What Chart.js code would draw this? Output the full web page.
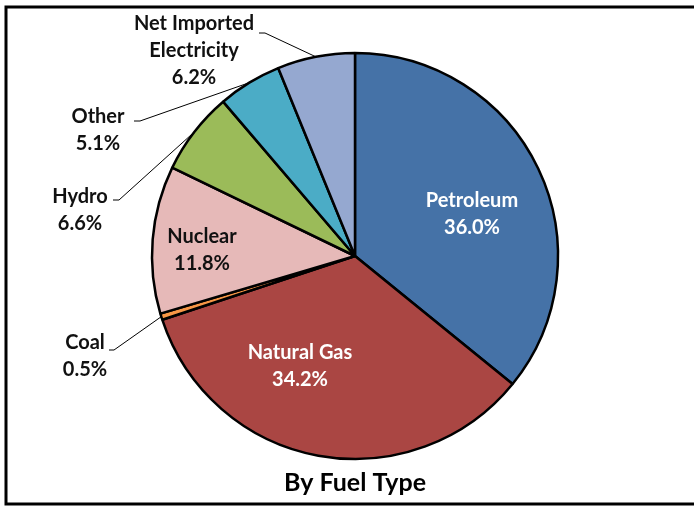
<!DOCTYPE html>
<html>
<head>
<meta charset="utf-8">
<title>By Fuel Type</title>
<script src="https://cdn.jsdelivr.net/npm/chart.js@4.4.1/dist/chart.umd.min.js"></script>
<style>
    html, body { margin: 0; padding: 0; background: #ffffff; }
    #wrap { width: 694px; height: 506px; position: relative; }
</style>
</head>
<body>
<div id="wrap"><canvas id="fuelChart" width="694" height="506"></canvas></div>
<script>
// Data
const categories = ['Petroleum', 'Natural Gas', 'Coal', 'Nuclear', 'Hydro', 'Other', 'Net Imported Electricity'];
const shares = [36.0, 34.2, 0.5, 11.8, 6.6, 5.1, 6.2];
const chartTitle = 'By Fuel Type';

const sliceColors = ['#4572A7', '#AA4643', '#F79646', '#E6B9B8', '#9BBB59', '#4BACC6', '#95A8D0'];

// Label text split in lines (category name lines, value appended later)
const labelNames = [['Petroleum'], ['Natural Gas'], ['Coal'], ['Nuclear'], ['Hydro'], ['Other'], ['Net Imported', 'Electricity']];

// Label placement relative to the pie centre (layout only)
// inside: text centre offset; outside: text centre, elbow and line end offsets
const labelLayout = [
    { inside: true, dx: 117, dy: -42, color: '#ffffff' },
    { inside: true, dx: -55, dy: 110, color: '#ffffff' },
    { inside: false, dx: -270, dy: 100, elbow: [-241, 94], end: [-246, 94] },
    { inside: true, dx: -153, dy: -6, color: '#111111' },
    { inside: false, dx: -275, dy: -46, elbow: [-236, -56], end: [-242, -56] },
    { inside: false, dx: -257, dy: -126, elbow: [-215, -135], end: [-221, -135] },
    { inside: false, dx: -161, dy: -205, elbow: [-90, -223], end: [-96, -223] }
];

const FONT = 'bold 20px Lato, "Open Sans", sans-serif';
const LINE_H = 27;

const labelPlugin = {
    id: 'fuelLabels',
    beforeDraw(chart) {
        const ctx = chart.ctx;
        ctx.save();
        ctx.strokeStyle = '#000000';
        ctx.lineWidth = 3;
        ctx.strokeRect(6, 7, 720, 497);
        ctx.restore();
    },
    afterDatasetsDraw(chart) {
        const ctx = chart.ctx;
        const meta = chart.getDatasetMeta(0);
        ctx.save();
        ctx.font = FONT;
        ctx.textAlign = 'center';
        ctx.textBaseline = 'middle';

        meta.data.forEach((arc, i) => {
            const p = arc.getProps(['x', 'y', 'startAngle', 'endAngle', 'outerRadius'], true);
            const lay = labelLayout[i];
            const lines = labelNames[i].concat([shares[i].toFixed(1) + '%']);
            const cx = p.x + lay.dx;
            const cy = p.y + lay.dy;

            if (!lay.inside) {
                // leader line from the slice edge midpoint
                const mid = (p.startAngle + p.endAngle) / 2;
                const ax = p.x + Math.cos(mid) * p.outerRadius;
                const ay = p.y + Math.sin(mid) * p.outerRadius;
                ctx.strokeStyle = '#000000';
                ctx.lineWidth = 1;
                ctx.beginPath();
                ctx.moveTo(ax, ay);
                ctx.lineTo(p.x + lay.elbow[0], p.y + lay.elbow[1]);
                ctx.lineTo(p.x + lay.end[0], p.y + lay.end[1]);
                ctx.stroke();
            }

            ctx.fillStyle = lay.color || '#111111';
            const top = cy - (lines.length - 1) * LINE_H / 2;
            lines.forEach((t, k) => ctx.fillText(t, cx, top + k * LINE_H));
        });

        // title under the pie
        ctx.fillStyle = '#000000';
        ctx.font = 'bold 25px Lato, "Open Sans", sans-serif';
        ctx.fillText(chartTitle, 355, 483);
        ctx.restore();
    }
};

new Chart(document.getElementById('fuelChart'), {
    type: 'pie',
    data: {
        labels: categories,
        datasets: [{
            data: shares,
            backgroundColor: sliceColors,
            borderColor: '#000000',
            borderWidth: 2.5
        }]
    },
    options: {
        responsive: false,
        animation: false,
        radius: 203,
        layout: { padding: { left: 16, right: 0, top: 6, bottom: 0 } },
        plugins: {
            legend: { display: false },
            tooltip: { enabled: false },
            title: { display: false }
        }
    },
    plugins: [labelPlugin]
});
</script>
</body>
</html>
